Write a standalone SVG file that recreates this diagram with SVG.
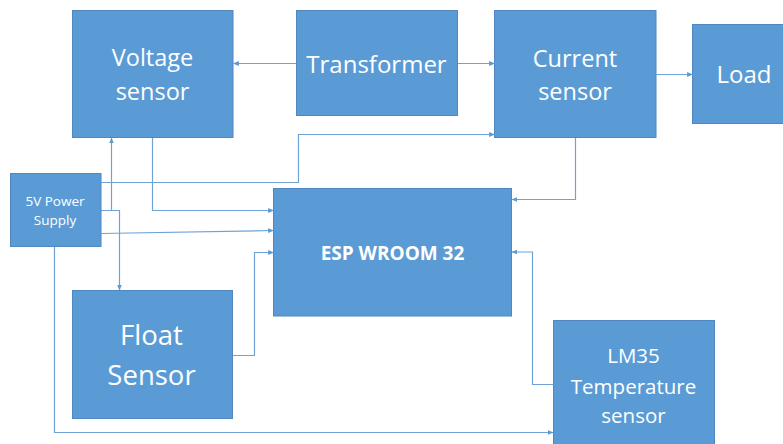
<svg xmlns="http://www.w3.org/2000/svg" width="783" height="444" viewBox="0 0 783 444">
<style>
.box{fill:#5B9BD5;stroke:#4F87BE;stroke-width:1}
.t{fill:#ffffff;font-family:"Open Sans","Liberation Sans",sans-serif;text-anchor:middle}
.c{fill:none;stroke:#6FA3D8;stroke-width:1.2}
</style>
<defs>
<marker id="ah" viewBox="0 0 10 10" refX="9" refY="5" markerWidth="6" markerHeight="6" markerUnits="userSpaceOnUse" orient="auto">
<path d="M0,1 L10,5 L0,9 Z" fill="#5B9BD5"/>
</marker>
</defs>
<rect width="783" height="444" fill="#ffffff"/>
<g id="voltage-sensor">
<rect class="box" x="72.5" y="10.5" width="160.5" height="127"/>
<text class="t" x="152.5" y="66" font-size="23.5">Voltage</text>
<text class="t" x="152.5" y="100" font-size="23.5">sensor</text>
</g>
<g id="transformer">
<rect class="box" x="296.5" y="10.5" width="161" height="105"/>
<text class="t" x="376.5" y="73" font-size="24">Transformer</text>
</g>
<g id="current-sensor">
<rect class="box" x="494.5" y="10.5" width="161.5" height="127"/>
<text class="t" x="575" y="67" font-size="23.5">Current</text>
<text class="t" x="575" y="100" font-size="23.5">sensor</text>
</g>
<g id="load">
<rect class="box" x="692.5" y="24.5" width="95" height="99"/>
<text class="t" x="744" y="83" font-size="24">Load</text>
</g>
<g id="power-supply">
<rect class="box" x="10.5" y="173.5" width="90.5" height="73"/>
<text class="t" x="55" y="206" font-size="13.5">5V Power</text>
<text class="t" x="55" y="225" font-size="13.5">Supply</text>
</g>
<g id="esp">
<rect class="box" x="273.5" y="188.5" width="238" height="127.5"/>
<text class="t" x="392.5" y="259.5" font-size="19" font-weight="bold">ESP WROOM 32</text>
</g>
<g id="float-sensor">
<rect class="box" x="72.5" y="290.5" width="160" height="128"/>
<text class="t" x="151.5" y="345" font-size="27.5">Float</text>
<text class="t" x="151.5" y="384.5" font-size="27.5">Sensor</text>
</g>
<g id="lm35">
<rect class="box" x="553.5" y="320.5" width="161" height="130"/>
<text class="t" x="633.5" y="362.5" font-size="20.5">LM35</text>
<text class="t" x="633.5" y="393.5" font-size="20.5">Temperature</text>
<text class="t" x="633.5" y="422.5" font-size="20.5">sensor</text>
</g>
<g id="connectors">
<path class="c" d="M296,63.5 H233.5" marker-end="url(#ah)"/>
<path class="c" d="M458,63.5 H494.5" marker-end="url(#ah)"/>
<path class="c" d="M656,74.5 H692.5" marker-end="url(#ah)"/>
<path class="c" d="M101,182.5 H298.5 V134.5 H494.5" marker-end="url(#ah)"/>
<path class="c" d="M101,210.5 H119.5 V290" marker-end="url(#ah)"/>
<path class="c" d="M111.5,210.5 V138" marker-end="url(#ah)"/>
<path class="c" d="M152.5,138 V210.5 H273.5" marker-end="url(#ah)"/>
<path class="c" d="M101,233.5 L273.5,230.5" marker-end="url(#ah)"/>
<path class="c" d="M233,355.5 H254.5 V252.5 H273.5" marker-end="url(#ah)"/>
<path class="c" d="M575.5,138 V199.5 H512" marker-end="url(#ah)"/>
<path class="c" d="M553.5,384.5 H532.5 V252 H512" marker-end="url(#ah)"/>
<path class="c" d="M54.5,247 V432.5 H553" marker-end="url(#ah)"/>
</g>
</svg>
